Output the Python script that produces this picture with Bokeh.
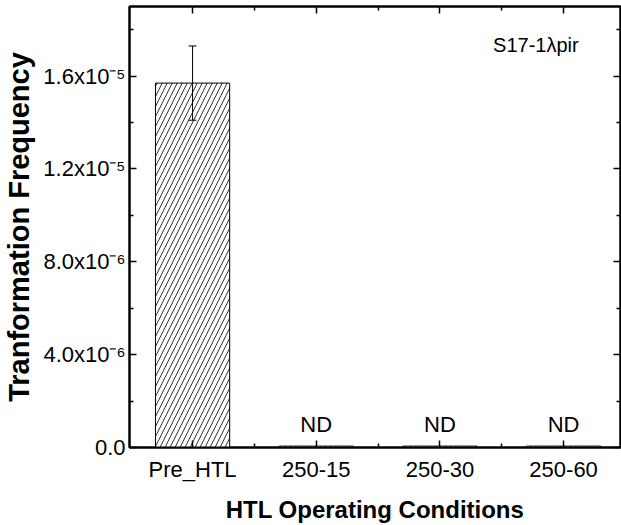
from bokeh.plotting import figure
from bokeh.models import (Range1d, LinearAxis, FixedTicker, Whisker, ColumnDataSource, Label,
                          CustomLabelingPolicy)
from bokeh.core.properties import value
from bokeh.embed import file_html
from bokeh.resources import INLINE

categories = ["Pre_HTL", "250-15", "250-30", "250-60"]
freq = [1.57e-5, 6e-8, 6e-8, 6e-8]
freq_err = [1.6e-6, 0, 0, 0]
nd_labels = ["", "ND", "ND", "ND"]
y_ticks = [0, 4e-6, 8e-6, 1.2e-5, 1.6e-5]
y_tick_labels = ["0.0", "4.0x10\u207b\u2076", "8.0x10\u207b\u2076", "1.2x10\u207b\u2075", "1.6x10\u207b\u2075"]
strain = "S17-1\u03bbpir"

FONT = "Liberation Sans"
xs = list(range(1, len(categories) + 1))

p = figure(width=621, height=525, output_backend="svg", toolbar_location=None,
           x_range=Range1d(0.49, 4.46), y_range=Range1d(0, 1.9e-5),
           min_border_left=129, min_border_right=1, min_border_top=6, min_border_bottom=78)
p.grid.visible = False
p.outline_line_color = "black"
p.outline_line_width = 2
p.background_fill_color = "white"
p.border_fill_color = "white"

src = ColumnDataSource(dict(x=xs, top=freq, lo=[f - e for f, e in zip(freq, freq_err)],
                            hi=[f + e for f, e in zip(freq, freq_err)], nd=nd_labels))
p.vbar(x="x", top="top", bottom=0, width=0.6, source=src, fill_color="white",
       line_color="black", line_width=1, hatch_pattern="/", hatch_color="black",
       hatch_scale=10, hatch_weight=0.8)

err_src = ColumnDataSource(dict(x=xs[:1], lo=src.data["lo"][:1], hi=src.data["hi"][:1]))
w = Whisker(base="x", lower="lo", upper="hi", source=err_src, line_color="black", line_width=1,
            level="overlay")
w.upper_head.size = 8
w.lower_head.size = 8
w.upper_head.line_width = 1
w.lower_head.line_width = 1
p.add_layout(w)

p.text(x="x", y="top", text="nd", source=src, text_align="center", text_baseline="bottom",
       y_offset=-9, text_font=value(FONT), text_font_size="22px", text_color="black")

# axes styling
xt = FixedTicker(ticks=xs, minor_ticks=[1.5, 2.5, 3.5])
yt = FixedTicker(ticks=y_ticks, minor_ticks=[2e-6, 6e-6, 1e-5, 1.4e-5, 1.8e-5])

def style(ax, labels=True):
    ax.axis_line_width = 2
    ax.axis_line_color = "black"
    ax.major_tick_line_color = "black"
    ax.minor_tick_line_color = "black"
    ax.major_label_text_color = "black"
    ax.axis_label_text_color = "black"
    ax.major_tick_in = 7
    ax.major_tick_out = 0
    ax.minor_tick_in = 4
    ax.minor_tick_out = 0
    ax.major_tick_line_width = 1.5
    ax.minor_tick_line_width = 1.5
    if not labels:
        ax.major_label_policy = CustomLabelingPolicy(code="return []")
        ax.major_label_text_font_size = "0px"
        ax.major_label_standoff = 0
        ax.axis_label = None

xa = p.xaxis[0]
xa.ticker = xt
xa.major_label_overrides = {i + 1: c for i, c in enumerate(categories)}
xa.major_label_text_font = FONT
xa.major_label_text_font_size = "22px"
xa.major_label_standoff = 9
xa.axis_label = "HTL Operating Conditions"
xa.axis_label_text_font = FONT
xa.axis_label_text_font_style = "bold"
xa.axis_label_text_font_size = "24px"
xa.axis_label_standoff = 11
style(xa)

ya = p.yaxis[0]
ya.ticker = yt
ya.major_label_overrides = {t: l for t, l in zip(y_ticks, y_tick_labels)}
ya.major_label_text_font = FONT
ya.major_label_text_font_size = "22px"
ya.major_label_standoff = 4
ya.axis_label = "Tranformation Frequency"
ya.axis_label_text_font = FONT
ya.axis_label_text_font_style = "bold"
ya.axis_label_text_font_size = "29px"
ya.axis_label_standoff = 5
style(ya)

top_ax = LinearAxis(ticker=xt)
style(top_ax, labels=False)
p.add_layout(top_ax, "above")
right_ax = LinearAxis(ticker=yt)
style(right_ax, labels=False)
p.add_layout(right_ax, "right")

p.add_layout(Label(x=3.43, y=1.733e-5, text=strain, text_font=FONT, text_font_size="20px",
                   text_color="black", text_baseline="middle", text_align="left"))

open("out.html", "w").write(file_html(p, INLINE))
